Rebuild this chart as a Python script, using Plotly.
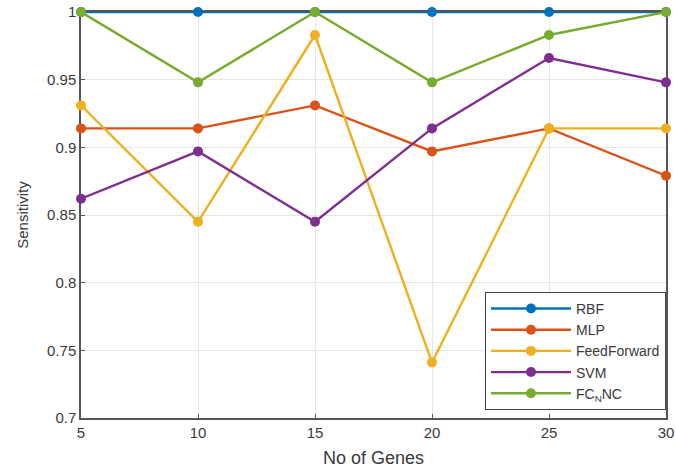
import plotly.graph_objects as go

genes = [5, 10, 15, 20, 25, 30]
rbf = [1, 1, 1, 1, 1, 1]
mlp = [0.914, 0.914, 0.931, 0.897, 0.914, 0.879]
feedforward = [0.931, 0.845, 0.983, 0.741, 0.914, 0.914]
svm = [0.862, 0.897, 0.845, 0.914, 0.966, 0.948]
fcnnc = [1, 0.948, 1, 0.948, 0.983, 1]

y_ticks = [0.7, 0.75, 0.8, 0.85, 0.9, 0.95, 1]
y_ticktext = ["0.7", "0.75", "0.8", "0.85", "0.9", "0.95", "1"]

series = [
    ("RBF", rbf, "#0072BD"),
    ("MLP", mlp, "#D95319"),
    ("FeedForward", feedforward, "#EDB120"),
    ("SVM", svm, "#7E2F8E"),
    ("FC<sub>N</sub>NC", fcnnc, "#77AC30"),
]

FONT = "Liberation Sans, Arial, sans-serif"
TXT = "#3a3a3a"

fig = go.Figure()
for name, vals, color in series:
    fig.add_trace(go.Scatter(
        x=genes, y=vals, name=name, mode="lines+markers",
        line=dict(color=color, width=2.4),
        marker=dict(color=color, size=10),
        cliponaxis=False,
    ))

axis_common = dict(
    showline=True, mirror=True, linecolor="#555555", linewidth=1.5,
    ticks="inside", ticklen=4, tickcolor="#555555",
    showgrid=True, gridcolor="#e6e6e6", gridwidth=1,
    zeroline=False, layer="below traces", automargin=False,
    tickfont=dict(family=FONT, size=15, color=TXT),
)

fig.update_xaxes(range=[5, 30], tickvals=genes,
                 title=dict(text="No of Genes", font=dict(family=FONT, size=18, color=TXT), standoff=12),
                 **axis_common)
fig.update_yaxes(range=[0.7, 1.0], tickvals=y_ticks, ticktext=y_ticktext,
                 title=dict(text="Sensitivity", font=dict(family=FONT, size=15, color=TXT), standoff=15),
                 **axis_common)

fig.update_layout(
    width=676, height=472,
    margin=dict(l=81, r=10, t=12, b=54, autoexpand=False),
    paper_bgcolor="white", plot_bgcolor="white",
    legend=dict(
        x=1.0, y=0.02, xanchor="right", yanchor="bottom",
        bgcolor="white", bordercolor="#444444", borderwidth=1,
        font=dict(family=FONT, size=14, color=TXT),
        tracegroupgap=0, itemwidth=80,
    ),
    showlegend=True,
)

post = (
    "document.documentElement.style.margin='0';"
    "document.documentElement.style.overflow='hidden';"
    "document.documentElement.style.height='472px';"
    "document.body.style.margin='0';"
    "document.body.style.overflow='hidden';"
    "document.body.style.height='472px';"
)

fig.write_html("out.html", config={"displayModeBar": False}, post_script=post)
